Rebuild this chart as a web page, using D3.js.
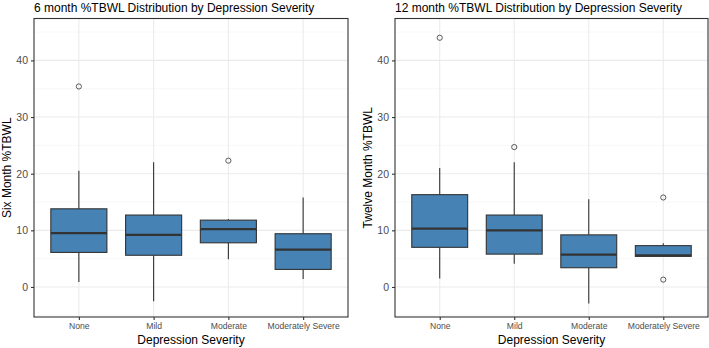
<!DOCTYPE html>
<html><head><meta charset="utf-8">
<script src="https://cdn.jsdelivr.net/npm/d3@7"></script>
<style>body{margin:0;background:#fff}svg{display:block;font-family:"Liberation Sans",Arial,sans-serif}</style>
</head><body><svg id="c" width="709" height="348"></svg>
<script>
const categories = ["None","Mild","Moderate","Moderately Severe"];
const yTicks = [0,10,20,30,40];
// six month: [whiskerLow, q1, median, q3, whiskerHigh]
const sixMonthStats = [
  [0.9, 6.1, 9.5, 13.8, 20.5],
  [-2.5, 5.6, 9.2, 12.7, 22.0],
  [4.9, 7.8, 10.2, 11.8, 12.0],
  [1.4, 3.1, 6.6, 9.4, 15.8]
];
const sixMonthOutliers = [[35.4],[],[22.3],[]];
const twelveMonthStats = [
  [1.5, 7.0, 10.3, 16.3, 21.0],
  [4.1, 5.8, 10.0, 12.7, 22.0],
  [-2.9, 3.4, 5.7, 9.2, 15.5],
  [5.4, 5.4, 5.6, 7.3, 7.7]
];
const twelveMonthOutliers = [[44.0],[24.7],[],[15.8,1.3]];

const panels = [
  {title:"6 month %TBWL Distribution by Depression Severity", ylab:"Six Month %TBWL", stats:sixMonthStats, out:sixMonthOutliers, x0:34, x1:348, ylabX:7},
  {title:"12 month %TBWL Distribution by Depression Severity", ylab:"Twelve Month %TBWL", stats:twelveMonthStats, out:twelveMonthOutliers, x0:395, x1:708, ylabX:368}
];
const svg = d3.select("#c");
const top0 = 18.5, bot0 = 317;
const y = d3.scaleLinear().domain([-5.3, 47.4]).range([bot0, top0]);
const minor = [-5,5,15,25,35,45].filter(v=>v>=-5.3 && v<=47.4);

panels.forEach(p=>{
  const x = d3.scalePoint().domain(categories).range([p.x0,p.x1]).padding(0.6);
  const bw = x.step()*0.75;
  const g = svg.append("g");
  // grid
  g.selectAll(".mn").data(minor).join("line").attr("x1",p.x0).attr("x2",p.x1)
    .attr("y1",d=>y(d)).attr("y2",d=>y(d)).attr("stroke","#f2f2f2").attr("stroke-width",0.6);
  g.selectAll(".mj").data(yTicks).join("line").attr("x1",p.x0).attr("x2",p.x1)
    .attr("y1",d=>y(d)).attr("y2",d=>y(d)).attr("stroke","#ebebeb").attr("stroke-width",1.1);
  g.selectAll(".vx").data(categories).join("line").attr("x1",d=>x(d)).attr("x2",d=>x(d))
    .attr("y1",top0).attr("y2",bot0).attr("stroke","#ebebeb").attr("stroke-width",1.1);
  // boxes
  categories.forEach((c,i)=>{
    const s = p.stats[i], cx = x(c);
    g.append("line").attr("x1",cx).attr("x2",cx).attr("y1",y(s[3])).attr("y2",y(s[4])).attr("stroke","#333").attr("stroke-width",1.1);
    g.append("line").attr("x1",cx).attr("x2",cx).attr("y1",y(s[0])).attr("y2",y(s[1])).attr("stroke","#333").attr("stroke-width",1.1);
    g.append("rect").attr("x",cx-bw/2).attr("width",bw).attr("y",y(s[3])).attr("height",y(s[1])-y(s[3]))
      .attr("fill","#4682b4").attr("stroke","#333").attr("stroke-width",1.1);
    g.append("line").attr("x1",cx-bw/2).attr("x2",cx+bw/2).attr("y1",y(s[2])).attr("y2",y(s[2])).attr("stroke","#333").attr("stroke-width",2.2);
    g.selectAll(null).data(p.out[i]).join("circle").attr("cx",cx).attr("cy",d=>y(d)).attr("r",2.6)
      .attr("fill","none").attr("stroke","#333").attr("stroke-width",0.8);
  });
  // border
  g.append("rect").attr("x",p.x0).attr("y",top0).attr("width",p.x1-p.x0).attr("height",bot0-top0)
    .attr("fill","none").attr("stroke","#333").attr("stroke-width",1.1);
  // axes
  const ya = g.append("g").attr("transform",`translate(${p.x0},0)`).call(d3.axisLeft(y).tickValues(yTicks).tickSize(3).tickPadding(3));
  ya.select(".domain").remove();
  ya.selectAll("line").attr("stroke","#333").attr("stroke-width",1.1);
  ya.selectAll("text").attr("fill","#4d4d4d").style("font-size","10.5px").style("font-family","Liberation Sans, Arial, sans-serif");
  const xa = g.append("g").attr("transform",`translate(0,${bot0})`).call(d3.axisBottom(x).tickSize(3).tickPadding(3));
  xa.select(".domain").remove();
  xa.selectAll("line").attr("stroke","#333").attr("stroke-width",1.1);
  xa.selectAll("text").attr("fill","#4d4d4d").style("font-size","8.6px").style("font-family","Liberation Sans, Arial, sans-serif");
  // titles
  g.append("text").attr("x",p.x0).attr("y",12).text(p.title).attr("fill","#000").style("font-size","12px");
  g.append("text").attr("x",(p.x0+p.x1)/2).attr("y",344).attr("text-anchor","middle").text("Depression Severity").style("font-size","12px");
  g.append("text").attr("transform",`translate(${p.ylabX+4},${(top0+bot0)/2}) rotate(-90)`).attr("text-anchor","middle").text(p.ylab).style("font-size","12px");
});
</script></body></html>
